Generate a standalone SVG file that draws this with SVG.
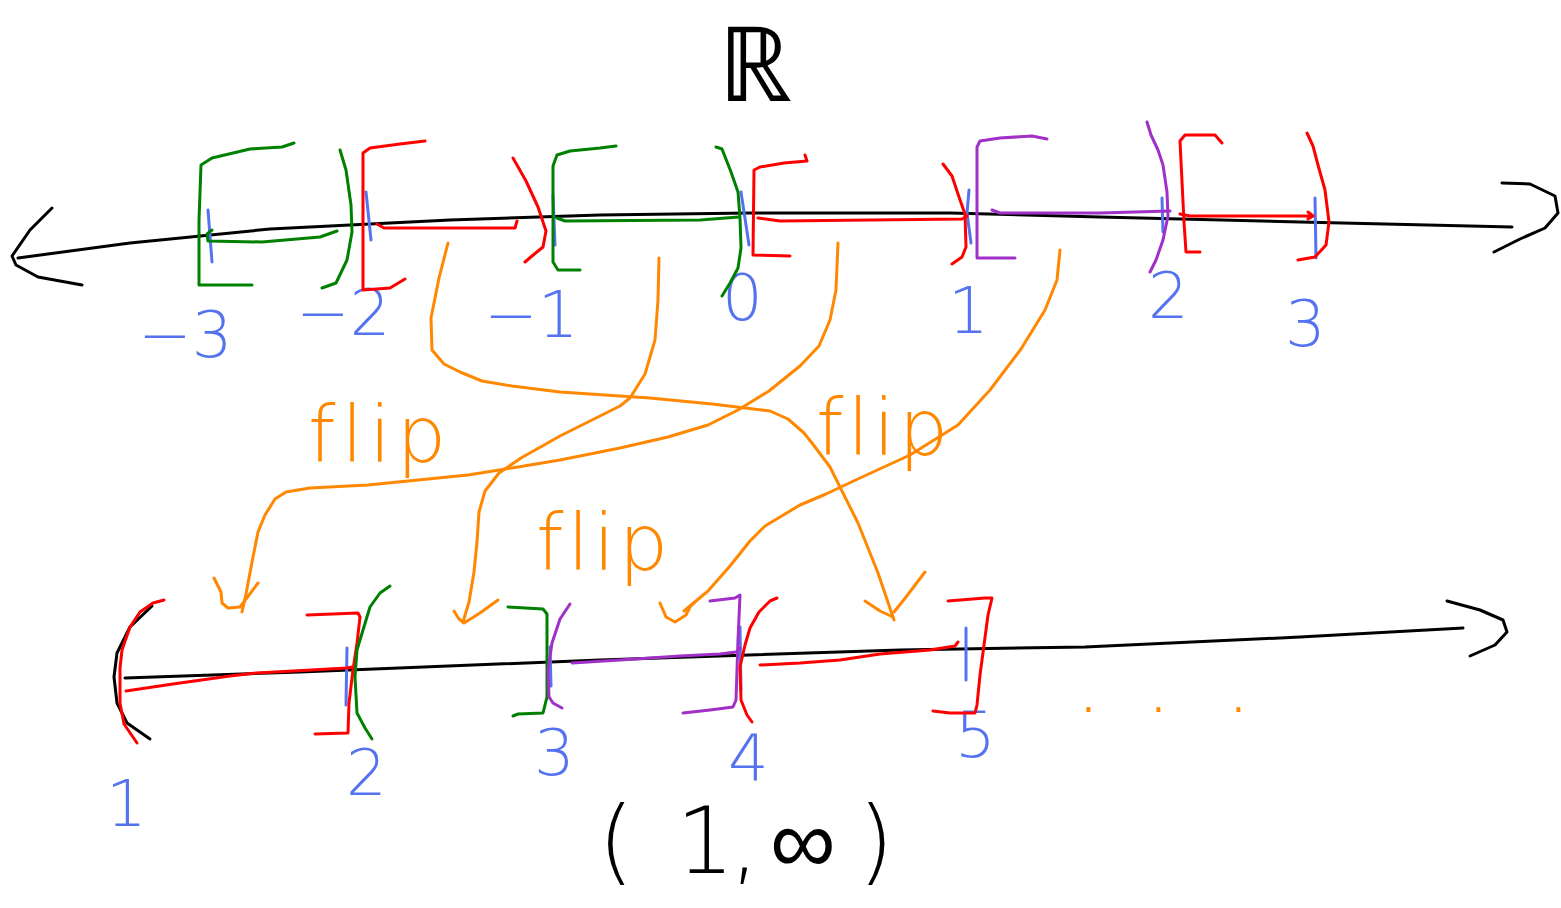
<svg xmlns="http://www.w3.org/2000/svg" width="1561" height="908" viewBox="0 0 1561 908">
  <style>
    .s { fill: none; stroke-width: 3; stroke-linecap: round; stroke-linejoin: round; }
    .k { stroke: #000000; }
    .g { stroke: #008000; }
    .r { stroke: #ff0000; }
    .p { stroke: #a030c8; }
    .o { stroke: #ff8800; }
    .b { stroke: #5573f0; }
    .lbl { font-family: "DejaVu Sans", "Liberation Sans", sans-serif; font-weight: 200; }
    .num { fill: #5573f0; font-size: 64px; }
    .flip { fill: #ff8800; font-size: 78px; }
    .blk { fill: #000000; }
  </style>

  <rect width="1561" height="908" fill="#ffffff"/>

  <!-- title: the real line -->
  <g id="title">
    <text class="lbl blk" x="718" y="101" font-size="104">ℝ</text>
  </g>

  <!-- upper number line -->
  <g id="axis-top">
    <path class="s k" d="M18,258 L130,243 L270,229 L450,220 L600,215 L750,213 L950,213 L1100,217 L1300,222 L1512,227"/>
    <path class="s k" d="M52,208 L30,230 L12,256 L16,265 L38,277 L82,285"/>
    <path class="s k" d="M1502,183 L1530,184 L1555,196 L1558,213 L1545,228 L1520,239 L1494,252"/>
  </g>

  <!-- integer ticks on the upper line -->
  <g id="ticks-top">
    <path class="s b" d="M208,210 L212,262"/>
    <path class="s b" d="M366,192 L371,240"/>
    <path class="s b" d="M553,195 L555,245"/>
    <path class="s b" d="M741,192 L749,245"/>
    <path class="s b" d="M969,190 L967,213 L971,243"/>
    <path class="s b" d="M1162,198 L1163,232"/>
    <path class="s b" d="M1315,198 L1316,258"/>
  </g>

  <g id="labels-top">
    <text class="lbl num" x="138" y="357">−3</text>
    <text class="lbl num" x="296" y="335">−2</text>
    <text class="lbl num" x="484" y="337">−1</text>
    <text class="lbl num" x="722" y="320">0</text>
    <text class="lbl num" x="948" y="333">1</text>
    <text class="lbl num" x="1148" y="318">2</text>
    <text class="lbl num" x="1285" y="346">3</text>
  </g>

  <!-- [-3,-2) -->
  <g id="int-m3">
    <path class="s g" d="M294,143 L282,147 L250,149 L212,158 L201,165 L199,220 L199,285 L252,285"/>
    <path class="s g" d="M340,150 L346,170 L351,205 L352,232 L347,260 L336,283 L322,288"/>
    <path class="s g" d="M212,230 L207,234 L208,241 L262,242 L320,237 L337,231"/>
  </g>

  <!-- [-2,-1) -->
  <g id="int-m2">
    <path class="s r" d="M425,141 L400,144 L370,148 L363,153 L363,290 L390,288 L405,279"/>
    <path class="s r" d="M513,158 L526,181 L538,207 L546,231 L543,247 L532,256 L525,262"/>
    <path class="s r" d="M377,224 L384,228 L515,228 L517,221"/>
  </g>

  <!-- [-1,0) -->
  <g id="int-m1">
    <path class="s g" d="M616,146 L600,148 L570,151 L557,155 L553,166 L553,262 L558,270 L580,270"/>
    <path class="s g" d="M716,147 L722,149 L731,172 L738,192 L740,218 L741,248 L738,268 L730,283 L722,296"/>
    <path class="s g" d="M557,218 L565,221 L700,220 L739,217"/>
  </g>

  <!-- [0,1) -->
  <g id="int-0">
    <path class="s r" d="M805,155 L807,161 L784,163 L760,167 L754,170 L753,255 L790,256"/>
    <path class="s r" d="M943,164 L952,176 L959,197 L965,214 L966,247 L962,257 L952,264"/>
    <path class="s r" d="M758,218 L780,221 L962,219 L967,216"/>
  </g>

  <!-- [1,2) -->
  <g id="int-1">
    <path class="s p" d="M1047,139 L1032,136 L1000,138 L980,141 L977,147 L977,258 L1015,258"/>
    <path class="s p" d="M1147,122 L1151,135 L1158,150 L1163,165 L1167,192 L1168,216 L1163,240 L1156,260 L1150,272"/>
    <path class="s p" d="M992,210 L1000,213 L1100,213 L1170,211"/>
  </g>

  <!-- [2,3) -->
  <g id="int-2">
    <path class="s r" d="M1222,143 L1215,135 L1185,135 L1180,141 L1184,222 L1186,252 L1200,252"/>
    <path class="s r" d="M1307,133 L1313,146 L1318,165 L1325,190 L1329,222 L1326,245 L1315,257 L1298,260"/>
    <path class="s r" d="M1180,214 L1190,216 L1312,216 M1308,212 L1313,216 L1308,219"/>
  </g>

  <!-- lower number line: (1, infinity) -->
  <g id="axis-bottom">
    <path class="s k" d="M125,678 L300,672 L600,660 L900,650 L1085,647 L1300,637 L1463,628"/>
    <path class="s k" d="M1447,601 L1480,610 L1503,620 L1507,632 L1495,645 L1470,656"/>
    <path class="s k" d="M152,606 L130,627 L117,653 L114,677 L117,703 L127,723 L150,739"/>
  </g>

  <g id="ticks-bottom">
    <path class="s b" d="M347,648 L346,705"/>
    <path class="s b" d="M550,647 L551,686"/>
    <path class="s b" d="M740,627 L741,690"/>
    <path class="s b" d="M966,628 L966,680"/>
  </g>

  <g id="labels-bottom">
    <text class="lbl num" x="106" y="826">1</text>
    <text class="lbl num" x="346" y="795">2</text>
    <text class="lbl num" x="534" y="775">3</text>
    <text class="lbl num" x="728" y="780">4</text>
    <text class="lbl num" x="955" y="757">5</text>
    <text class="lbl flip" x="1076 1146 1226" y="712">...</text>
    <text class="lbl blk" x="598 676 730 770 858" y="873" font-size="92">(1,∞)</text>
  </g>

  <!-- image of [0,1): (1,2] -->
  <g id="img-0">
    <path class="s r" d="M164,600 L153,603 L140,612 L130,627 L122,650 L120,668 L120,703 L124,724 L137,743"/>
    <path class="s r" d="M307,615 L358,613 L360,617 L357,643 L353,670 L349,703 L348,733 L315,734"/>
    <path class="s r" d="M126,691 L173,684 L230,676 L257,673 L347,668 L352,667"/>
  </g>

  <!-- image of [-1,0): (2,3] -->
  <g id="img-m1">
    <path class="s g" d="M390,586 L380,593 L370,607 L363,630 L357,650 L355,677 L357,713 L365,728 L372,739"/>
    <path class="s g" d="M508,607 L543,609 L547,614 L547,697 L543,713 L518,714 L513,716"/>
  </g>

  <!-- image of [1,2): (3,4] -->
  <g id="img-1">
    <path class="s p" d="M570,604 L560,619 L552,643 L548,670 L549,697 L553,703 L562,708"/>
    <path class="s p" d="M710,601 L735,598 L740,595 L738,640 L736,700 L733,707 L710,710 L683,713"/>
    <path class="s p" d="M572,663 L620,660 L680,656 L720,654 L736,652 L740,648"/>
  </g>

  <!-- image of [-2,-1): (4,5] -->
  <g id="img-m2">
    <path class="s r" d="M777,598 L770,601 L759,612 L750,628 L745,645 L740,667 L741,700 L747,715 L752,722"/>
    <path class="s r" d="M948,601 L985,598 L992,598 L988,615 L984,645 L980,675 L977,705 L975,713 L950,713 L933,711"/>
    <path class="s r" d="M760,665 L800,663 L840,660 L880,654 L930,650 L955,646 L958,642"/>
  </g>

  <!-- flip arrows -->
  <g id="connectors">
    <path class="s o" d="M448,243 L439,278 L431,318 L432,350 L444,364 L460,372 L482,381 L512,386 L560,392 L650,398 L712,404 L770,411 L788,419 L804,433 L812,443 L830,467 L858,523 L878,573 L894,620"/>
    <path class="s o" d="M865,601 L880,611 L893,617 M925,572 L906,597 L894,612"/>

    <path class="s o" d="M659,258 L658,300 L655,340 L645,374 L630,398 L620,406 L608,412 L594,419 L560,436 L521,458 L499,473 L485,491 L479,512 L477,542 L474,572 L469,602 L463,622"/>
    <path class="s o" d="M454,611 L459,619 L464,623 L480,613 L498,600"/>

    <path class="s o" d="M838,243 L836,290 L830,320 L819,346 L800,366 L769,391 L738,410 L708,425 L668,437 L620,448 L560,460 L518,467 L468,475 L418,480 L368,485 L310,488 L286,492 L275,499 L265,515 L258,532 L252,562 L246,594 L242,612"/>
    <path class="s o" d="M214,578 L221,592 L222,603 L228,608 L240,607 L258,583"/>

    <path class="s o" d="M1060,250 L1057,280 L1045,310 L1021,349 L990,390 L958,425 L910,455 L860,478 L826,494 L800,505 L780,517 L765,526 L750,541 L730,566 L708,591 L684,611"/>
    <path class="s o" d="M660,603 L666,617 L675,622 L686,615 L690,607 L694,603"/>
  </g>

  <g id="flip-labels">
    <text class="lbl flip" x="308" y="462" letter-spacing="6">flip</text>
    <text class="lbl flip" x="816" y="455" letter-spacing="4">flip</text>
    <text class="lbl flip" x="536" y="570" letter-spacing="4">flip</text>
  </g>
</svg>
